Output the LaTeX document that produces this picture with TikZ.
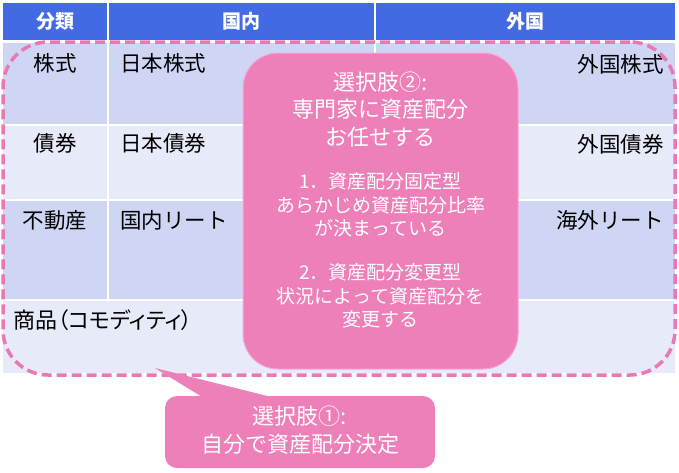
\documentclass[tikz,border=0pt]{standalone}
\usepackage{fontspec}
\setmainfont{Noto Sans CJK JP}
\usetikzlibrary{calc}
\definecolor{hdrblue}{RGB}{66,106,226}
\definecolor{rowdark}{RGB}{206,214,244}
\definecolor{rowlight}{RGB}{230,234,249}
\definecolor{pinkfill}{RGB}{238,128,185}
\definecolor{pinkline}{RGB}{235,120,182}
\definecolor{pinkedge}{RGB}{248,165,220}
\begin{document}
\begin{tikzpicture}[x=1pt,y=-1pt,
  hdrtext/.style={text=white, font=\fontsize{19}{22}\selectfont\bfseries, inner sep=0pt},
  celltext/.style={text=black, font=\fontsize{21.5}{26}\selectfont, inner sep=0pt},
  sepline/.style={white, line width=2pt},
  dasharea/.style={draw=pinkline, line width=3.5pt, dash pattern=on 10pt off 5pt, rounded corners=45pt, inner sep=0pt, minimum width=672pt, minimum height=333pt},
  choicebox/.style={fill=pinkfill, draw=pinkedge, line width=1pt, rounded corners=35pt, inner sep=0pt, minimum width=275pt, minimum height=316pt},
  calloutbox/.style={fill=pinkfill, rounded corners=12pt, inner sep=0pt, minimum width=270pt, minimum height=72pt},
  bigwhite/.style={text=white, align=center, inner sep=0pt, font=\fontsize{22}{27.5}\selectfont},
  smallwhite/.style={text=white, align=center, inner sep=0pt, font=\fontsize{19}{23.5}\selectfont}
]
\useasboundingbox (0,0) rectangle (679,472);
% table backgrounds
\fill[hdrblue] (3,3) rectangle (675,40);
\fill[rowdark] (3,43) rectangle (675,124);
\fill[rowlight] (3,126) rectangle (675,199);
\fill[rowdark] (3,201) rectangle (675,299);
\fill[rowlight] (3,301) rectangle (675,373);
\draw[sepline] (108,3) -- (108,300);
\draw[sepline] (375,3) -- (375,300);
% header
\node[hdrtext] (h1) at (55,21) {分類};
\node[hdrtext] (h2) at (241,21) {国内};
\node[hdrtext] (h3) at (525,21) {外国};
% cells
\node[celltext] (r1a) at (55,63) {株式};
\node[celltext,anchor=west] (r1b) at (120,63) {日本株式};
\node[celltext,anchor=east] (r1c) at (664,64) {外国株式};
\node[celltext] (r2a) at (55,143) {債券};
\node[celltext,anchor=west] (r2b) at (120,143) {日本債券};
\node[celltext,anchor=east] (r2c) at (664,144) {外国債券};
\node[celltext] (r3a) at (55,220) {不動産};
\node[celltext,anchor=west] (r3b) at (120,220) {国内リート};
\node[celltext,anchor=east] (r3c) at (664,220) {海外リート};
\node[celltext,anchor=west,font=\fontsize{22}{26}\selectfont\addfontfeatures{RawFeature=+palt}] (r4a) at (13,320) {商品（コモディティ）};
% dashed area (choice 1)
\node[dasharea] (area) at (339,208.5) {};
% choice 2 box
\node[choicebox] (choice2) at (380.5,211) {};
\node[bigwhite] (c2title) at (380.5,109.5) {選択肢②:\\専門家に資産配分\\お任せする};
\node[smallwhite] (c2one) at (380.5,205) {1．資産配分固定型\\あらかじめ資産配分比率\\が決まっている};
\node[smallwhite] (c2two) at (380.5,296) {2．資産配分変更型\\状況によって資産配分を\\変更する};
% choice 1 callout
\node[calloutbox] (choice1) at (300,432) {};
\coordinate (tip) at (155,368);
\fill[pinkfill] (tip) -- ([xshift=42pt,yshift=-4pt]choice1.north west) -- ([xshift=118pt,yshift=-4pt]choice1.north west) -- cycle;
\node[bigwhite] (c1text) at (300,430) {選択肢①:\\自分で資産配分決定};
\end{tikzpicture}
\end{document}
